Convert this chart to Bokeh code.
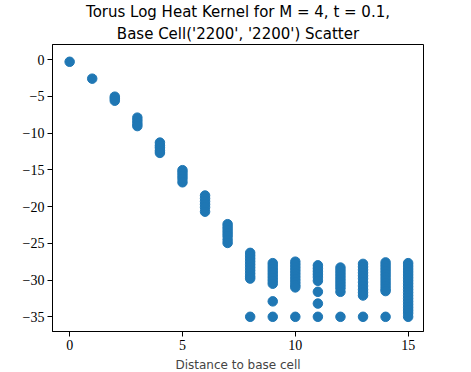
from bokeh.plotting import figure
from bokeh.models import FixedTicker, Range1d, Title
from bokeh.embed import file_html
from bokeh.resources import INLINE

# ---- data ----
d0 = [-0.3]
d1 = [-2.6]
d2 = [-5.05, -5.3, -5.6]
d3 = [-7.9, -8.3, -8.7, -9.05]
d4 = [-11.3, -11.7, -12.0, -12.4, -12.7]
d5 = [-15.05, -15.4, -15.8, -16.2, -16.7]
d6 = [-18.5, -18.9, -19.3, -19.7, -20.1, -20.7]
d7 = [-22.4, -22.8, -23.2, -23.6, -24.0, -24.5, -24.95]
d8 = [-26.3, -26.7, -27.1, -27.5, -27.9, -28.3, -28.7, -29.1, -29.5, -29.8, -35.0]
d9 = [-27.7, -28.1, -28.5, -28.9, -29.3, -29.7, -30.1, -30.5, -32.9, -35.0]
d10 = [-27.5, -27.9, -28.3, -28.7, -29.1, -29.5, -29.9, -30.3, -30.7, -31.0, -35.0]
d11 = [-28.0, -28.4, -28.8, -29.2, -29.6, -30.1, -31.6, -33.2, -35.0]
d12 = [-28.3, -28.7, -29.1, -29.5, -29.9, -30.3, -30.7, -31.1, -31.6, -35.0]
d13 = [-27.8, -28.2, -28.6, -29.0, -29.4, -29.8, -30.3, -30.8, -31.3, -31.7, -32.1, -35.0]
d14 = [-27.6, -28.0, -28.4, -28.8, -29.2, -29.6, -30.0, -30.4, -30.8, -31.2, -31.5, -35.0]
d15 = [-27.7, -28.1, -28.5, -28.9, -29.3, -29.7, -30.1, -30.5, -30.9, -31.3, -31.7,
       -32.1, -32.5, -32.9, -33.3, -33.7, -34.1, -34.5, -35.0]

distance_groups = [d0, d1, d2, d3, d4, d5, d6, d7, d8, d9, d10, d11, d12, d13, d14, d15]

x_ticks = [0, 5, 10, 15]
y_ticks = [0, -5, -10, -15, -20, -25, -30, -35]
y_tick_labels = ["0", "\u22125", "\u221210", "\u221215", "\u221220", "\u221225", "\u221230", "\u221235"]

title_line1 = "Torus Log Heat Kernel for M = 4, t = 0.1,"
title_line2 = "Base Cell('2200', '2200') Scatter"
x_label = "Distance to base cell"

xs, ys = [], []
for dist, vals in enumerate(distance_groups):
    for v in vals:
        xs.append(dist)
        ys.append(v)

# ---- figure ----
p = figure(frame_width=371, frame_height=287, output_backend="svg", toolbar_location=None,
           x_range=Range1d(-0.76, 15.68), y_range=Range1d(-37.0, 2.05),
           min_border_left=52, min_border_right=40, min_border_top=0, min_border_bottom=0)

p.title.text = title_line1
p.title.align = "center"
p.title.text_font = "DejaVu Sans"
p.title.text_font_size = "15px"
p.title.text_font_style = "normal"
p.title.text_color = "black"
p.title.standoff = 0
p.title.offset = 0

sub = Title(text=title_line2, align="center", text_font="DejaVu Sans", text_font_size="15px",
            text_font_style="normal", text_color="black", standoff=4)
p.add_layout(sub, "above")

p.scatter(xs, ys, size=9.5, color="#1f77b4", line_color="#1f77b4")

p.grid.visible = False
p.outline_line_color = "black"
p.outline_line_width = 1
p.outline_line_alpha = 1

p.xaxis.ticker = FixedTicker(ticks=x_ticks)
p.yaxis.ticker = FixedTicker(ticks=y_ticks)
p.yaxis.major_label_overrides = {t: l for t, l in zip(y_ticks, y_tick_labels)}
p.xaxis.axis_label = x_label
p.xaxis.axis_label_text_font = "DejaVu Sans"
p.xaxis.axis_label_text_font_size = "12px"
p.xaxis.axis_label_text_font_style = "normal"
p.xaxis.axis_label_standoff = 5

for ax in (p.xaxis[0], p.yaxis[0]):
    ax.major_label_text_font = "Liberation Serif"
    ax.major_label_text_font_size = "14px"
    ax.major_label_text_color = "black"
    ax.minor_tick_line_color = None
    ax.major_tick_in = 0
    ax.major_tick_out = 5
    ax.major_tick_line_color = "black"
    ax.axis_line_color = "black"
    ax.major_label_standoff = 3

open("out.html", "w").write(file_html(p, INLINE))
